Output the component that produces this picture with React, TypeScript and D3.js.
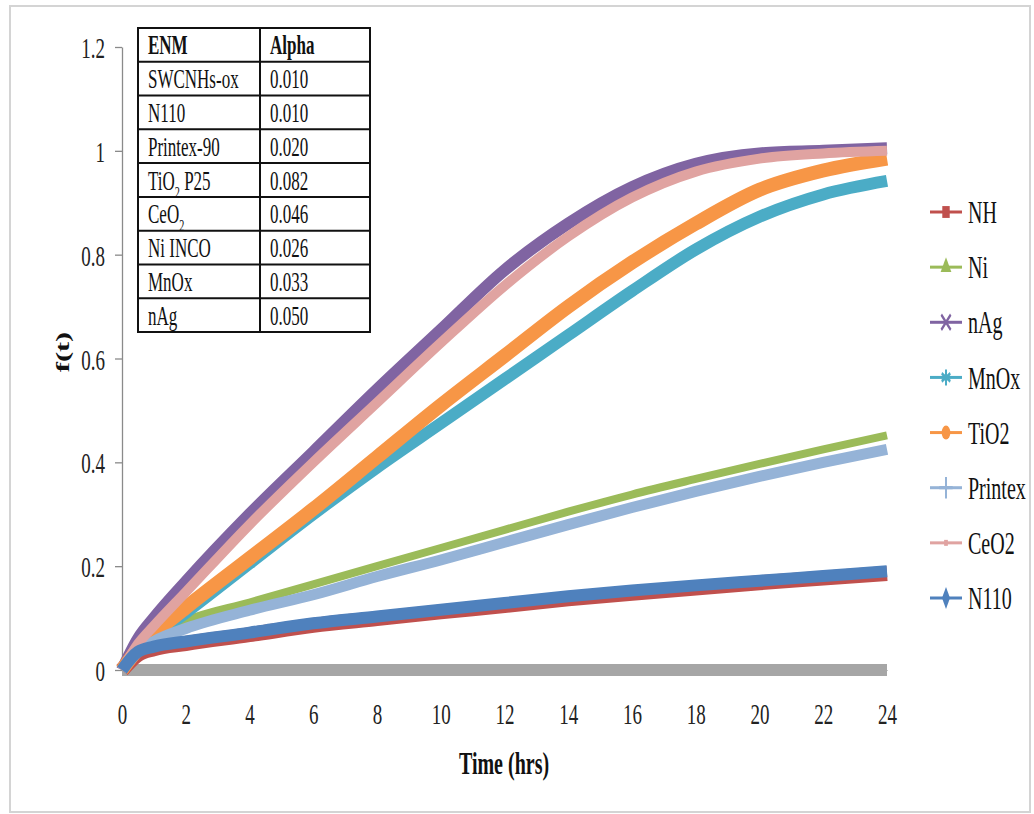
import * as d3 from "d3";
import { useEffect, useRef } from "react";

// time axis (hrs) and f(t)
const hours = [0, 0.5, 1, 2, 4, 6, 8, 10, 12, 14, 16, 18, 20, 22, 24];
const swcnhs = [0, 0, 0, 0, 0, 0, 0, 0, 0, 0, 0, 0, 0, 0, 0];
const nh = [0, 0.03, 0.041, 0.051, 0.068, 0.086, 0.099, 0.112, 0.124, 0.137, 0.148, 0.158, 0.168, 0.177, 0.186];
const ni = [0, 0.045, 0.065, 0.095, 0.13, 0.165, 0.2, 0.235, 0.27, 0.305, 0.338, 0.368, 0.397, 0.425, 0.452];
const nAg = [0, 0.06, 0.1, 0.17, 0.3, 0.42, 0.54, 0.655, 0.77, 0.86, 0.93, 0.975, 0.995, 1.0, 1.005];
const mnOx = [0, 0.04, 0.065, 0.11, 0.205, 0.3, 0.39, 0.475, 0.56, 0.645, 0.73, 0.81, 0.873, 0.916, 0.942];
const tiO2 = [0, 0.04, 0.07, 0.12, 0.215, 0.31, 0.41, 0.51, 0.605, 0.7, 0.785, 0.86, 0.925, 0.962, 0.985];
const printex = [0, 0.035, 0.055, 0.08, 0.115, 0.145, 0.18, 0.212, 0.246, 0.28, 0.313, 0.344, 0.373, 0.4, 0.425];
const ceO2 = [0, 0.05, 0.085, 0.15, 0.28, 0.4, 0.515, 0.63, 0.74, 0.835, 0.91, 0.96, 0.985, 0.995, 1.0];
const n110 = [0, 0.035, 0.045, 0.055, 0.072, 0.09, 0.103, 0.116, 0.129, 0.142, 0.153, 0.163, 0.172, 0.181, 0.19];

const seriesNames = ["NH", "Ni", "nAg", "MnOx", "TiO2", "Printex", "CeO2", "N110"];
const seriesValues = [nh, ni, nAg, mnOx, tiO2, printex, ceO2, n110];
const seriesColors = ["#C0504D", "#9BBB59", "#8064A2", "#4BACC6", "#F79646", "#95B3D7", "#E0A3A1", "#4F81BD"];
const seriesWidths = [15, 8, 12, 12, 14, 11, 10, 12];

const xTicks = [0, 2, 4, 6, 8, 10, 12, 14, 16, 18, 20, 22, 24];
const yTicks = [0, 0.2, 0.4, 0.6, 0.8, 1, 1.2];

// inset table
const tableHeader = ["ENM", "Alpha"];
const tableEnm = ["SWCNHs-ox", "N110", "Printex-90", "TiO_2 P25", "CeO_2", "Ni INCO", "MnOx", "nAg"];
const tableAlpha = ["0.010", "0.010", "0.020", "0.082", "0.046", "0.026", "0.033", "0.050"];

const W = 1034;
const H = 814;
const SY = 1.6; // the source picture is stretched vertically
const FONT = "'Liberation Serif', 'Times New Roman', serif";

function label(g: any, x: number, y: number, str: string, size: number, anchor = "start", bold = false) {
  const t = g
    .append("g")
    .attr("transform", `translate(${x},${y}) scale(1,${SY})`)
    .append("text")
    .attr("dy", "0.35em")
    .attr("text-anchor", anchor)
    .style("font-size", size + "px")
    .style("font-weight", bold ? "bold" : "normal")
    .attr("fill", "#111");
  // "_2" -> subscript
  const shift = size * 0.3;
  let down = false;
  str.split(/_(\d)/).forEach((part, i) => {
    if (!part) return;
    if (i % 2 === 1) {
      t.append("tspan").attr("dy", shift).style("font-size", size * 0.6 + "px").text(part);
      down = true;
    } else {
      const sp = t.append("tspan").text(part);
      if (down) {
        sp.attr("dy", -shift);
        down = false;
      }
    }
  });
  return t;
}

function drawChart(el: SVGSVGElement) {
  const svg = d3.select(el);
  svg.selectAll("*").remove();
  svg.style("font-family", FONT);

  svg.append("rect").attr("width", W).attr("height", H).attr("fill", "#fff");
  svg
    .append("rect")
    .attr("x", 10)
    .attr("y", 6)
    .attr("width", 1020)
    .attr("height", 806)
    .attr("fill", "none")
    .attr("stroke", "#d4d4d4")
    .attr("stroke-width", 2);

  const x = d3.scaleLinear().domain([0, 24]).range([122, 887]);
  const y = d3.scaleLinear().domain([0, 1.2]).range([670, 47]);

  // y axis
  const yAxis = svg
    .append("g")
    .attr("transform", `translate(${x(0)},0)`)
    .call(d3.axisLeft(y).tickValues(yTicks).tickFormat(d3.format("~g") as any).tickSize(7).tickSizeOuter(0));
  yAxis.selectAll("path, line").attr("stroke", "#8a8a8a").attr("stroke-width", 1.3);
  yAxis
    .selectAll("text")
    .attr("x", -17)
    .attr("dy", "0.35em")
    .attr("transform", `scale(1,${SY})`)
    .attr("fill", "#222")
    .style("font-family", FONT)
    .style("font-size", "19px");

  // x axis
  const xAxis = svg
    .append("g")
    .attr("transform", `translate(0,${y(0)})`)
    .call(d3.axisBottom(x).tickValues(xTicks).tickSize(0).tickSizeOuter(0));
  xAxis.selectAll("path").attr("stroke", "#8a8a8a");
  xAxis
    .selectAll("text")
    .attr("y", 0)
    .attr("dy", "0.35em")
    .attr("transform", `translate(0,43) scale(1,${SY})`)
    .attr("fill", "#222")
    .style("font-family", FONT)
    .style("font-size", "19px");

  // axis titles
  label(svg, 504, 763, "Time (hrs)", 20, "middle", true);
  svg
    .append("g")
    .attr("transform", `translate(62,352) scale(1,${SY}) rotate(-90)`)
    .append("text")
    .attr("dy", "0.35em")
    .attr("text-anchor", "middle")
    .style("font-size", "19px")
    .style("font-weight", "bold")
    .attr("fill", "#111")
    .text("f(t)");

  const line = d3
    .line<number>()
    .x((_, i) => x(hours[i]))
    .y((d) => y(d))
    .curve(d3.curveMonotoneX);

  const plot = svg.append("g");
  plot
    .append("path")
    .attr("d", line(swcnhs))
    .attr("fill", "none")
    .attr("stroke", "#A6A6A6")
    .attr("stroke-width", 12);

  seriesValues.forEach((vals, i) => {
    plot
      .append("path")
      .attr("d", line(vals))
      .attr("fill", "none")
      .attr("stroke", seriesColors[i])
      .attr("stroke-width", seriesWidths[i])
      .attr("stroke-linejoin", "round");
  });

  // legend
  const ly = d3.scalePoint().domain(seriesNames).range([212, 598]);
  const symbols = [
    d3.symbolSquare,
    d3.symbolTriangle,
    d3.symbolX,
    d3.symbolAsterisk,
    d3.symbolCircle,
    d3.symbolPlus,
    d3.symbolSquare,
    d3.symbolDiamond,
  ];
  const symbolSize = [55, 50, 60, 70, 60, 60, 14, 55];
  const stroked = [false, false, true, true, false, true, false, false];
  const legend = svg.append("g");
  seriesNames.forEach((name, i) => {
    const cy = ly(name) as number;
    legend
      .append("line")
      .attr("x1", 930)
      .attr("x2", 962)
      .attr("y1", cy)
      .attr("y2", cy)
      .attr("stroke", seriesColors[i])
      .attr("stroke-width", 3);
    const sym = legend
      .append("path")
      .attr("transform", `translate(946,${cy}) scale(1,${SY})`)
      .attr("d", d3.symbol(symbols[i], symbolSize[i])());
    if (stroked[i]) sym.attr("fill", "none").attr("stroke", seriesColors[i]).attr("stroke-width", 2);
    else sym.attr("fill", seriesColors[i]);
    label(legend, 968, cy, name, 20);
  });

  // inset table
  const tx = [138, 260, 370];
  const rows = d3.scaleBand<number>().domain(d3.range(tableEnm.length + 1)).range([28, 332]);
  const table = svg.append("g");
  table
    .append("rect")
    .attr("x", tx[0])
    .attr("y", 28)
    .attr("width", tx[2] - tx[0])
    .attr("height", 304)
    .attr("fill", "#fff")
    .attr("stroke", "#111")
    .attr("stroke-width", 2);
  table
    .append("line")
    .attr("x1", tx[1])
    .attr("x2", tx[1])
    .attr("y1", 28)
    .attr("y2", 332)
    .attr("stroke", "#111")
    .attr("stroke-width", 2);
  d3.range(1, tableEnm.length + 1).forEach((r) => {
    table
      .append("line")
      .attr("x1", tx[0])
      .attr("x2", tx[2])
      .attr("y1", rows(r) as number)
      .attr("y2", rows(r) as number)
      .attr("stroke", "#111")
      .attr("stroke-width", 2);
  });
  const mid = (r: number) => (rows(r) as number) + rows.bandwidth() / 2;
  label(table, tx[0] + 10, mid(0), tableHeader[0], 17, "start", true);
  label(table, tx[1] + 10, mid(0), tableHeader[1], 17, "start", true);
  tableEnm.forEach((n, i) => {
    label(table, tx[0] + 10, mid(i + 1), n, 17);
    label(table, tx[1] + 10, mid(i + 1), tableAlpha[i], 17);
  });
}

export default function App() {
  const ref = useRef<SVGSVGElement>(null);
  useEffect(() => {
    if (ref.current) drawChart(ref.current);
  }, []);
  return (
    <svg
      ref={ref}
      width={W}
      height={H}
      style={{ position: "absolute", left: 0, top: 0, display: "block" }}
    />
  );
}
